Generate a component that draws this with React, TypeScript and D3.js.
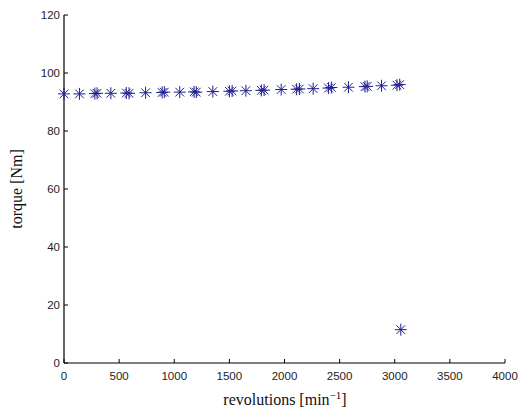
import React from "react";
import * as d3 from "d3";

const rpm = [0, 140, 280, 300, 425, 565, 590, 740, 890, 910, 1050, 1180, 1200, 1350, 1500, 1525, 1650, 1790, 1815, 1970, 2110, 2135, 2260, 2400, 2425, 2580, 2730, 2750, 2880, 3020, 3045, 3055];
const torque = [92.8, 92.8, 92.9, 93.0, 93.0, 93.1, 93.0, 93.2, 93.3, 93.4, 93.4, 93.5, 93.4, 93.6, 93.7, 93.8, 93.9, 94.0, 94.1, 94.3, 94.4, 94.5, 94.6, 94.8, 95.0, 95.1, 95.3, 95.4, 95.6, 95.8, 96.0, 11.5];
const xTicks = [0, 500, 1000, 1500, 2000, 2500, 3000, 3500, 4000];
const yTicks = [0, 20, 40, 60, 80, 100, 120];

export default function App() {
  const W = 520, H = 411;
  const x = d3.scaleLinear().domain([0, 4000]).range([64, 505]);
  const y = d3.scaleLinear().domain([0, 120]).range([363, 15]);
  const r = 6;
  const d = r * 0.72;
  const col = "#1f1f8f";
  return (
    <svg width={W} height={H} style={{ position: "absolute", left: 0, top: 0, background: "#fff" }}>
      <line x1={x(0)} x2={x(4000)} y1={y(0)} y2={y(0)} stroke="#000" strokeWidth={1.2} />
      <line x1={x(0)} x2={x(0)} y1={y(0)} y2={y(120)} stroke="#000" strokeWidth={1.2} />
      {xTicks.map((t) => (
        <g key={"x" + t}>
          <line x1={x(t)} x2={x(t)} y1={y(0)} y2={y(0) - 4} stroke="#000" />
          <text x={x(t)} y={y(0) + 17} textAnchor="middle" fontFamily="Liberation Sans, Arial" fontSize={11.5} fill="#222">{t}</text>
        </g>
      ))}
      {yTicks.map((t) => (
        <g key={"y" + t}>
          <line x1={x(0)} x2={x(0) + 4} y1={y(t)} y2={y(t)} stroke="#000" />
          <text x={x(0) - 4} y={y(t) + 4} textAnchor="end" fontFamily="Liberation Sans, Arial" fontSize={11.5} fill="#222">{t}</text>
        </g>
      ))}
      {rpm.map((v, i) => {
        const cx = x(v), cy = y(torque[i]);
        return (
          <g key={"p" + i} stroke={col} strokeWidth={1}>
            <line x1={cx - r} x2={cx + r} y1={cy} y2={cy} />
            <line x1={cx} x2={cx} y1={cy - r} y2={cy + r} />
            <line x1={cx - d} x2={cx + d} y1={cy - d} y2={cy + d} />
            <line x1={cx - d} x2={cx + d} y1={cy + d} y2={cy - d} />
          </g>
        );
      })}
      <text x={285} y={405} textAnchor="middle" fontFamily="Liberation Serif, Times New Roman" fontSize={16} fill="#111">
        revolutions [min<tspan dy={-6} fontSize={11}>−1</tspan><tspan dy={6}>]</tspan>
      </text>
      <text transform={`translate(22, ${(y(0) + y(120)) / 2}) rotate(-90)`} textAnchor="middle" fontFamily="Liberation Serif, Times New Roman" fontSize={16} fill="#111">
        torque [Nm]
      </text>
    </svg>
  );
}
